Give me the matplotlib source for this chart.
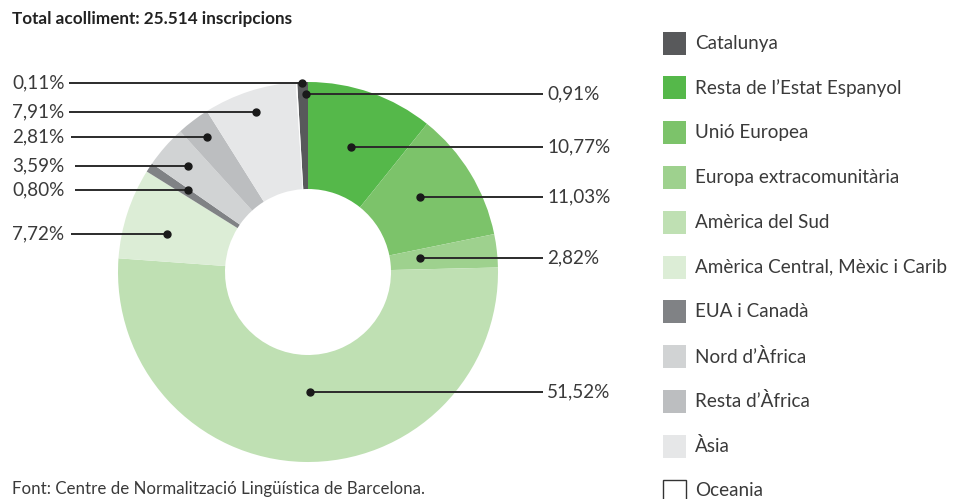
import matplotlib
matplotlib.use("Agg")
import matplotlib.pyplot as plt
from matplotlib.patches import Rectangle

# ---- data -------------------------------------------------------------
categories = [
    "Catalunya",
    "Resta de l\u2019Estat Espanyol",
    "Unió Europea",
    "Europa extracomunitària",
    "Amèrica del Sud",
    "Amèrica Central, Mèxic i Carib",
    "EUA i Canadà",
    "Nord d\u2019Àfrica",
    "Resta d\u2019Àfrica",
    "Àsia",
    "Oceania",
]
shares = [0.91, 10.77, 11.03, 2.82, 51.52, 7.72, 0.80, 3.59, 2.81, 7.91, 0.11]
colors = ["#58595b", "#55b84a", "#7cc36a", "#9ed18e", "#bfe0b3", "#dcedd6",
          "#808285", "#d1d3d4", "#bcbec0", "#e6e7e8", "#ffffff"]
title = "Total acolliment: 25.514 inscripcions"
source = "Font: Centre de Normalització Lingüística de Barcelona."

# ---- layout (pixels, origin top-left) --------------------------------
W, H = 966, 499
cx, cy, r_out, r_in = 308, 272, 190, 83

# callouts: category index, side, label y, dot x, line end x
callouts = [
    (10, "L", 83, 302, 69),
    (9, "L", 112, 256, 69),
    (8, "L", 137, 207, 71),
    (7, "L", 166, 188, 75),
    (6, "L", 190, 188, 75),
    (5, "L", 234, 167, 71),
    (0, "R", 94, 306, 543),
    (1, "R", 147, 351, 543),
    (2, "R", 197, 420, 543),
    (3, "R", 258, 420, 543),
    (4, "R", 392, 310, 543),
]

fig = plt.figure(figsize=(W / 100, H / 100), dpi=100)
ax = fig.add_axes([0, 0, 1, 1])


def Y(y):
    return H - y


ax.pie(shares, colors=colors, startangle=90 + shares[0] * 3.6,
       counterclock=False, radius=r_out, center=(cx, Y(cy)),
       wedgeprops=dict(width=r_out - r_in, linewidth=0))
ax.set_xlim(0, W)
ax.set_ylim(0, H)
ax.set_aspect("equal")
ax.axis("off")

FAM = ["Lato", "DejaVu Sans"]
label_font = dict(family=FAM, fontweight="normal",
                  fontsize=13.6, color="#3a3a3a")
line_col = "#2b2b2b"


def pct(v):
    return f"{v:.2f}".replace(".", ",") + "%"


for idx, side, ly, dx, lx in callouts:
    ax.plot([dx, lx], [Y(ly), Y(ly)], color=line_col, lw=1.4,
            solid_capstyle="butt", zorder=5)
    ax.plot([dx], [Y(ly)], "o", color="#1a1a1a", ms=5, zorder=6)
    if side == "R":
        ax.text(lx + 4, Y(ly), pct(shares[idx]), ha="left", va="center",
                **label_font)
    else:
        ax.text(12, Y(ly), pct(shares[idx]), ha="left", va="center",
                **label_font)

# legend
leg_x, leg_y0, leg_step, sq = 663, 43, 44.8, 23
for i, (name, col) in enumerate(zip(categories, colors)):
    yc = leg_y0 + i * leg_step
    edge = "#333333" if col == "#ffffff" else "none"
    ax.add_patch(Rectangle((leg_x, Y(yc) - sq / 2), sq, sq, facecolor=col,
                           edgecolor=edge, lw=1.0))
    ax.text(leg_x + 32, Y(yc), name, ha="left", va="center", **label_font)

ax.text(12, Y(19), title, ha="left", va="center",
        family=FAM, fontweight="bold", fontsize=12.3,
        color="#222222")
ax.text(12, Y(489), source, ha="left", va="center",
        family=FAM, fontweight="normal", fontsize=12.2,
        color="#3a3a3a")

fig.savefig("out.png", dpi=100)
